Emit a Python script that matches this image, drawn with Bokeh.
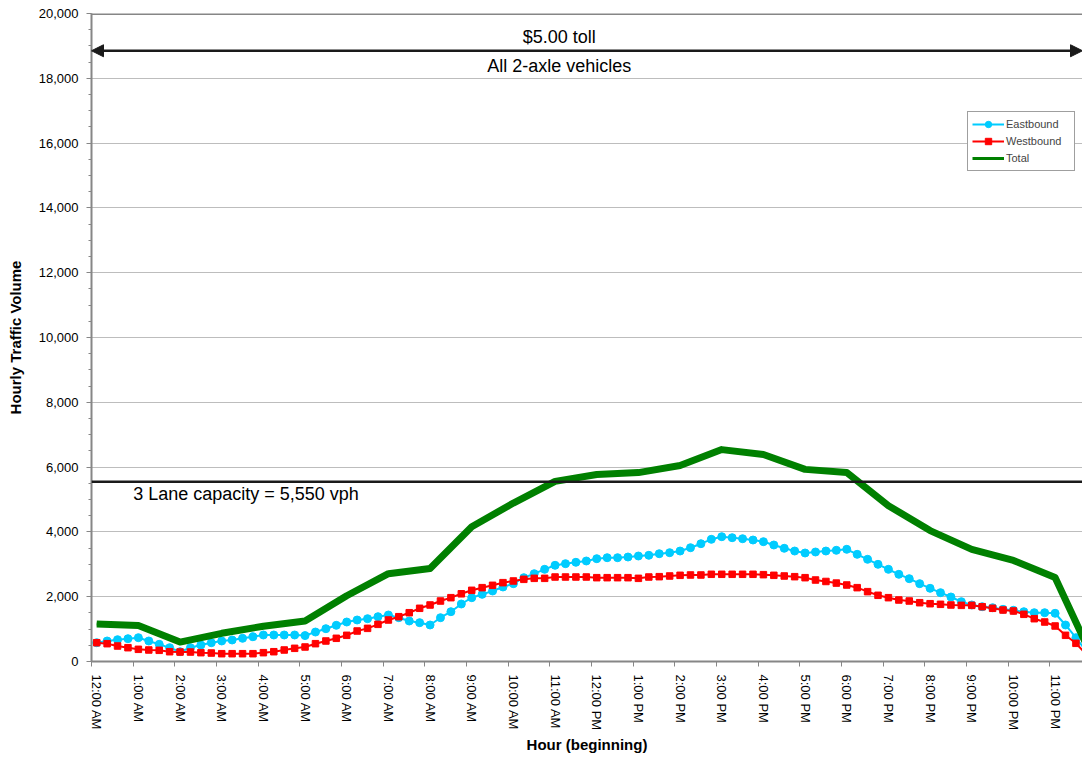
from bokeh.plotting import figure
from bokeh.models import (FixedTicker, Range1d, Span, Arrow, NormalHead, Label,
                          Legend, LegendItem, NumeralTickFormatter)
from bokeh.embed import file_html
from bokeh.resources import INLINE

# ---------------- data ----------------
title_text = "Saturday, September 25, 2010"
toll_text = "$5.00 toll"
vehicle_text = "All 2-axle vehicles"
capacity_text = "3 Lane capacity = 5,550 vph"
capacity = 5550

hour_labels = ["12:00 AM", "1:00 AM", "2:00 AM", "3:00 AM", "4:00 AM", "5:00 AM",
               "6:00 AM", "7:00 AM", "8:00 AM", "9:00 AM", "10:00 AM", "11:00 AM",
               "12:00 PM", "1:00 PM", "2:00 PM", "3:00 PM", "4:00 PM", "5:00 PM",
               "6:00 PM", "7:00 PM", "8:00 PM", "9:00 PM", "10:00 PM", "11:00 PM"]

# 15-minute slots (96 per day), hourly volume
eastbound = [580, 633, 673, 704, 735, 633, 530, 426, 302, 426,
             509, 580, 633, 664, 716, 765, 818, 818, 818, 818,
             800, 910, 1013, 1117, 1219, 1281, 1321, 1383, 1435, 1352,
             1250, 1198, 1127, 1352, 1537, 1775, 1970, 2073, 2176, 2300,
             2402, 2587, 2710, 2845, 2969, 3019, 3062, 3102, 3173, 3204,
             3204, 3225, 3256, 3278, 3327, 3358, 3410, 3512, 3636, 3771,
             3852, 3821, 3790, 3750, 3698, 3596, 3494, 3410, 3349, 3380,
             3410, 3432, 3463, 3308, 3154, 3000, 2845, 2691, 2556, 2402,
             2259, 2124, 1991, 1846, 1744, 1691, 1660, 1611, 1580, 1537,
             1506, 1506, 1488, 1127, 735, 320]

westbound = [580, 550, 478, 426, 376, 355, 345, 302, 292, 292,
             272, 261, 241, 241, 241, 241, 272, 302, 355, 407,
             448, 550, 633, 716, 808, 941, 1023, 1147, 1281, 1383,
             1506, 1642, 1744, 1867, 1970, 2090, 2197, 2279, 2351, 2433,
             2485, 2536, 2567, 2567, 2608, 2608, 2608, 2608, 2587, 2587,
             2587, 2587, 2567, 2608, 2618, 2639, 2660, 2670, 2670, 2691,
             2691, 2691, 2691, 2691, 2680, 2660, 2639, 2618, 2587, 2515,
             2470, 2420, 2361, 2279, 2156, 2043, 1970, 1898, 1867, 1815,
             1784, 1765, 1744, 1733, 1733, 1691, 1642, 1589, 1559, 1456,
             1321, 1219, 1096, 808, 561, 220]

# total is reported at each hour start slot (plus the last slot)
total_slots = [0, 4, 8, 12, 16, 20, 24, 28, 32, 36, 40, 44, 48, 52, 56, 60,
               64, 68, 72, 76, 80, 84, 88, 92, 95]
total = [1160, 1110, 600, 870, 1090, 1250, 2030, 2710, 2870, 4160, 4890, 5560,
         5770, 5830, 6050, 6540, 6390, 5930, 5830, 4810, 4040, 3460, 3120, 2590, 520]

# ---------------- figure ----------------
FONT = "Liberation Sans"
GRAY = "#868686"
INK = "#1a1a1a"

x15 = [i + 0.5 for i in range(len(eastbound))]
xt = [s + 0.5 for s in total_slots]

p = figure(width=1082, height=757, x_range=Range1d(0, 95.13), y_range=Range1d(0, 20000),
           output_backend="svg", toolbar_location=None,
           min_border_left=91, min_border_right=0, min_border_top=13, min_border_bottom=96)
p.outline_line_color = None
p.background_fill_color = "white"

# grid
p.xgrid.visible = False
p.ygrid.ticker = FixedTicker(ticks=list(range(0, 20001, 2000)))
p.ygrid.grid_line_color = "#bdbdbd"
p.ygrid.grid_line_width = 1

# y axis
ya = p.yaxis[0]
ya.ticker = FixedTicker(ticks=list(range(0, 20001, 2000)), minor_ticks=list(range(0, 20001, 500)))
ya.formatter = NumeralTickFormatter(format="0,0")
ya.axis_line_color = GRAY
ya.axis_line_width = 2
ya.major_tick_line_color = GRAY
ya.minor_tick_line_color = GRAY
ya.major_tick_out = 5
ya.major_tick_in = 0
ya.minor_tick_out = 3
ya.minor_tick_in = 0
ya.major_label_standoff = 8
ya.major_label_text_font = FONT
ya.major_label_text_font_size = "13px"
ya.major_label_text_color = "black"
ya.axis_label = "Hourly Traffic Volume"
ya.axis_label_text_font = FONT
ya.axis_label_text_font_size = "15px"
ya.axis_label_text_font_style = "bold"
ya.axis_label_text_color = "black"
ya.axis_label_standoff = 12

# x axis
xa = p.xaxis[0]
centers = [4 * h + 0.5 for h in range(len(hour_labels))]
xa.ticker = FixedTicker(ticks=centers, minor_ticks=[4 * h for h in range(len(hour_labels) + 1)])
xa.major_label_overrides = {c: lab for c, lab in zip(centers, hour_labels)}
xa.axis_line_color = GRAY
xa.axis_line_width = 2
xa.major_tick_out = 0
xa.major_tick_in = 0
xa.minor_tick_out = 5
xa.minor_tick_in = 0
xa.minor_tick_line_color = GRAY
xa.major_label_orientation = "vertical"
xa.major_label_standoff = 8
xa.major_label_text_font = FONT
xa.major_label_text_font_size = "13px"
xa.major_label_text_color = "black"
xa.axis_label = "Hour (beginning)"
xa.axis_label_text_font = FONT
xa.axis_label_text_font_size = "15px"
xa.axis_label_text_font_style = "bold"
xa.axis_label_text_color = "black"
xa.axis_label_standoff = 3

# top border of plot area
p.add_layout(Span(location=20000, dimension="width", line_color=GRAY, line_width=3))

# series
e_line = p.line(x15, eastbound, line_color="#00ccff", line_width=2)
e_pts = p.scatter(x15, eastbound, marker="circle", size=8, fill_color="#00ccff", line_color="#00ccff")
w_line = p.line(x15, westbound, line_color="#ff0000", line_width=2)
w_pts = p.scatter(x15, westbound, marker="square", size=6.5, fill_color="#ff0000", line_color="#ff0000")
t_key = p.line(xt, total, line_color="#008000", line_width=3)
t_line = p.line(xt, total, line_color="#008000", line_width=7, line_join="round")

# capacity line and annotations
p.add_layout(Arrow(x_start=0, x_end=95.13, y_start=capacity, y_end=capacity,
                   start=None, end=None, line_color=INK, line_width=2.5))
p.add_layout(Label(x=4.0, y=5180, text=capacity_text, text_align="left", text_baseline="middle",
                   text_font=FONT, text_font_size="18px", text_color="black"))

head = dict(size=12, fill_color=INK, line_color=INK, line_width=1)
p.add_layout(Arrow(x_start=0, x_end=95.13, y_start=18850, y_end=18850,
                   start=NormalHead(**head), end=NormalHead(**head),
                   line_color=INK, line_width=2.5))
p.add_layout(Label(x=44.9, y=19280, text=toll_text, text_align="center", text_baseline="middle",
                   text_font=FONT, text_font_size="18px", text_color="black"))
p.add_layout(Label(x=44.9, y=18380, text=vehicle_text, text_align="center", text_baseline="middle",
                   text_font=FONT, text_font_size="18px", text_color="black"))
# chart title: only its lower edge is on the canvas, as in the source image
p.add_layout(Label(x=507, y=2, x_units="canvas", y_units="canvas", text=title_text,
                   text_align="center", text_baseline="alphabetic",
                   text_font=FONT, text_font_size="18px", text_color="black"))

# legend
legend = Legend(items=[LegendItem(label="Eastbound", renderers=[e_line, e_pts]),
                       LegendItem(label="Westbound", renderers=[w_line, w_pts]),
                       LegendItem(label="Total", renderers=[t_key])],
                location=(876, 490), orientation="vertical",
                padding=4, spacing=1, margin=0,
                glyph_width=32, glyph_height=16, label_height=16, label_width=64,
                label_standoff=2, label_text_font=FONT, label_text_font_size="11px",
                border_line_color="#404040", border_line_width=1,
                background_fill_color="white", background_fill_alpha=1.0)
p.add_layout(legend)

open("out.html", "w").write(file_html(p, INLINE, title=title_text))
